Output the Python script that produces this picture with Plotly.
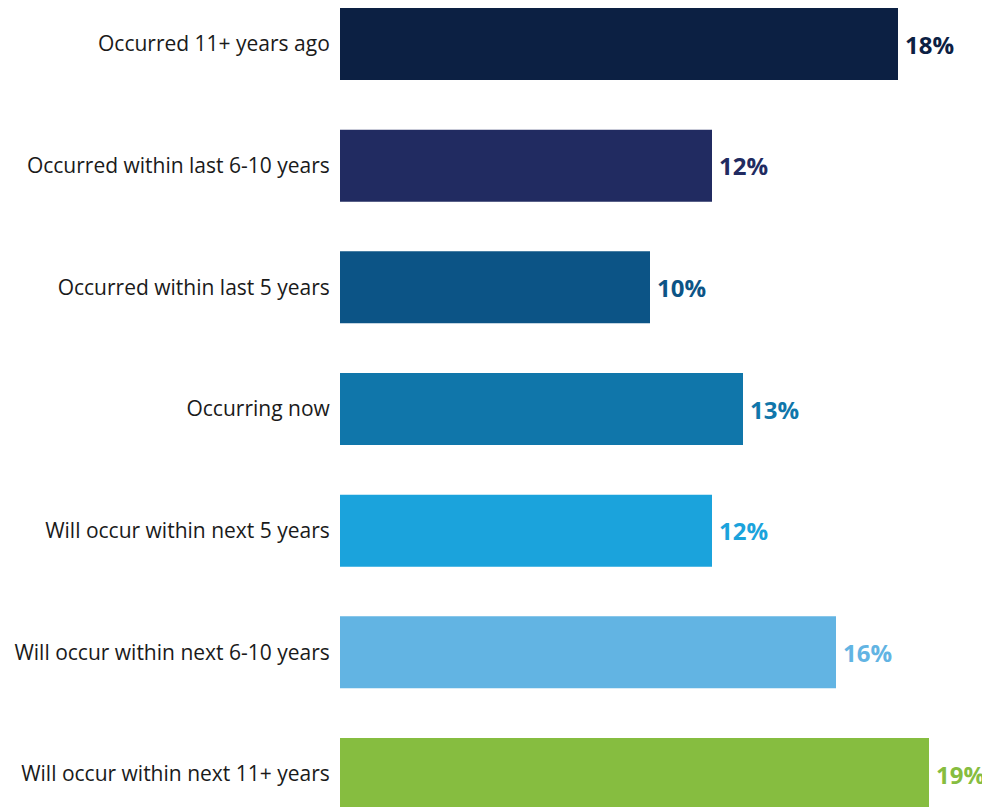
import plotly.graph_objects as go

categories = [
    "Occurred 11+ years ago",
    "Occurred within last 6-10 years",
    "Occurred within last 5 years",
    "Occurring now",
    "Will occur within next 5 years",
    "Will occur within next 6-10 years",
    "Will occur within next 11+ years",
]
values = [18, 12, 10, 13, 12, 16, 19]
value_labels = ["18%", "12%", "10%", "13%", "12%", "16%", "19%"]
colors = ["#0c2043", "#212b61", "#0c5486", "#1076aa", "#1ba3dc", "#62b4e3", "#86bd40"]

W, H = 982, 799
L = 332
top_center = 36
pitch = 121.67

fig = go.Figure()
fig.add_trace(go.Bar(
    x=values, y=categories, orientation="h",
    marker=dict(color=colors, line=dict(width=0)),
    width=0.592, hoverinfo="skip",
))

for c, v, t, col in zip(categories, values, value_labels, colors):
    fig.add_annotation(
        x=v, y=c, text=f"<b>{t}</b>", showarrow=False,
        xanchor="left", yanchor="middle", xshift=5, yshift=0,
        font=dict(family="Open Sans", size=24, color=col),
    )

fig.update_layout(
    width=W, height=H,
    margin=dict(l=L, r=0, t=0, b=0),
    paper_bgcolor="white", plot_bgcolor="white",
    showlegend=False,
    font=dict(family="Open Sans", size=21, color="#1a1a1a"),
    xaxis=dict(range=[0, (W - L) / 31], visible=False, fixedrange=True),
    yaxis=dict(
        type="category", categoryorder="array", categoryarray=categories,
        range=[(H - top_center) / pitch, -top_center / pitch],
        showgrid=False, zeroline=False, showline=False,
        ticks="outside", ticklen=5, tickcolor="rgba(0,0,0,0)",
        tickfont=dict(family="Open Sans", size=21, color="#1a1a1a"),
    ),
)

fig.write_html("out.html")
